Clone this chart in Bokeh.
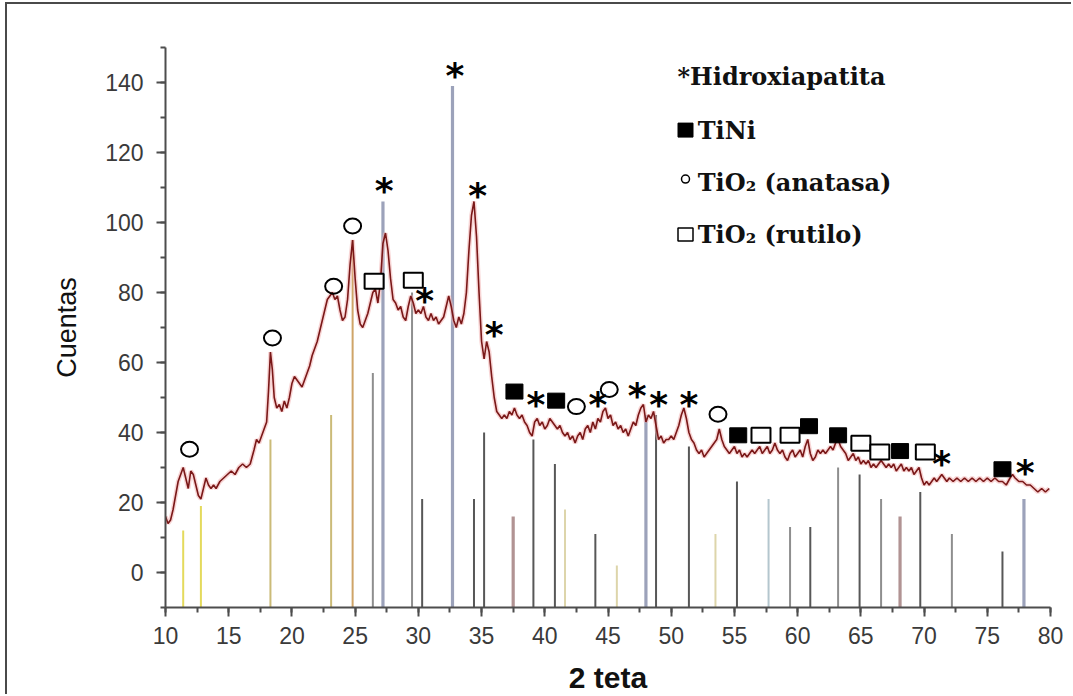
from bokeh.plotting import figure
from bokeh.models import Range1d, SingleIntervalTicker, ColumnDataSource
from bokeh.core.properties import value
from bokeh.embed import file_html
from bokeh.resources import INLINE

# --- measured diffractogram (2 theta, counts) ---
two_theta = [
    10.0, 10.2, 10.4, 10.6, 10.8, 11.0, 11.2, 11.4, 11.6, 11.8, 12.0, 12.2, 12.4, 12.6, 12.8,
    13.0, 13.2, 13.4, 13.6, 13.8, 14.0, 14.3, 14.6, 14.9, 15.2, 15.5, 15.8, 16.1, 16.4, 16.7,
    17.0, 17.2, 17.4, 17.6, 17.8, 18.0, 18.15, 18.3, 18.45, 18.6, 18.8, 19.0, 19.2, 19.4, 19.6,
    19.8, 20.0, 20.2, 20.4, 20.6, 20.8, 21.0, 21.2, 21.4, 21.6, 21.8, 22.0, 22.2, 22.4, 22.6,
    22.8, 23.0, 23.2, 23.4, 23.6, 23.8, 24.0, 24.2, 24.4, 24.6, 24.8, 25.0, 25.2, 25.4, 25.6,
    25.8, 26.0, 26.2, 26.4, 26.6, 26.8, 27.0, 27.2, 27.4, 27.6, 27.8, 28.0, 28.2, 28.4, 28.6,
    28.8, 29.0, 29.2, 29.4, 29.6, 29.8, 30.0, 30.2, 30.4, 30.6, 30.8, 31.0, 31.2, 31.4, 31.6,
    31.8, 32.0, 32.2, 32.4, 32.6, 32.8, 33.0, 33.2, 33.4, 33.6, 33.8, 34.0, 34.2, 34.4, 34.6,
    34.8, 35.0, 35.2, 35.4, 35.6, 35.8, 36.0, 36.2, 36.4, 36.6, 36.8, 37.0, 37.2, 37.4, 37.6,
    37.8, 38.0, 38.2, 38.4, 38.6, 38.8, 39.0, 39.2, 39.4, 39.6, 39.8, 40.0, 40.2, 40.4, 40.6,
    40.8, 41.0, 41.2, 41.4, 41.6, 41.8, 42.0, 42.2, 42.4, 42.6, 42.8, 43.0, 43.2, 43.4, 43.6,
    43.8, 44.0, 44.2, 44.4, 44.6, 44.8, 45.0, 45.2, 45.4, 45.6, 45.8, 46.0, 46.2, 46.4, 46.6,
    46.8, 47.0, 47.2, 47.4, 47.6, 47.8, 48.0, 48.2, 48.4, 48.6, 48.8, 49.0, 49.2, 49.4, 49.6,
    49.8, 50.0, 50.2, 50.4, 50.6, 50.8, 51.0, 51.2, 51.4, 51.6, 51.8, 52.0, 52.2, 52.4, 52.6,
    52.8, 53.0, 53.2, 53.4, 53.6, 53.8, 54.0, 54.2, 54.4, 54.6, 54.8, 55.0, 55.2, 55.4, 55.6,
    55.8, 56.0, 56.2, 56.4, 56.6, 56.8, 57.0, 57.2, 57.4, 57.6, 57.8, 58.0, 58.2, 58.4, 58.6,
    58.8, 59.0, 59.2, 59.4, 59.6, 59.8, 60.0, 60.2, 60.4, 60.6, 60.8, 61.0, 61.2, 61.4, 61.6,
    61.8, 62.0, 62.2, 62.4, 62.6, 62.8, 63.0, 63.2, 63.4, 63.6, 63.8, 64.0, 64.2, 64.4, 64.6,
    64.8, 65.0, 65.2, 65.4, 65.6, 65.8, 66.0, 66.2, 66.4, 66.6, 66.8, 67.0, 67.2, 67.4, 67.6,
    67.8, 68.0, 68.2, 68.4, 68.6, 68.8, 69.0, 69.2, 69.4, 69.6, 69.8, 70.0, 70.2, 70.4, 70.6,
    70.8, 71.0, 71.2, 71.4, 71.6, 71.8, 72.0, 72.3, 72.6, 72.9, 73.2, 73.5, 73.8, 74.1, 74.4,
    74.7, 75.0, 75.3, 75.6, 75.9, 76.2, 76.5, 76.8, 77.0, 77.2, 77.5, 77.8, 78.1, 78.4, 78.7,
    79.0, 79.3, 79.6, 79.9,
]
counts = [
    16, 14, 15, 18, 22, 26, 28, 30, 27, 24, 29, 28, 25, 22, 21,
    24, 27, 25, 24, 25, 24, 26, 27, 28, 29, 28, 30, 31, 30, 31,
    35, 38, 37, 39, 41, 43, 52, 63, 58, 50, 47, 48, 46, 49, 47,
    50, 54, 56, 55, 54, 53, 55, 57, 59, 62, 64, 66, 69, 72, 75,
    78, 79, 80, 78, 79, 75, 72, 73, 78, 88, 95, 84, 75, 71, 70,
    72, 74, 77, 80, 81, 77, 83, 94, 97, 92, 84, 78, 77, 75, 76,
    73, 72, 76, 79, 77, 74, 75, 74, 76, 73, 72, 74, 72, 73, 71,
    72, 73, 76, 79, 76, 72, 70, 73, 71, 74, 80, 92, 102, 106, 96,
    80, 66, 61, 66, 63, 56, 50, 46, 45, 44, 45, 44, 46, 45, 47,
    45, 44, 45, 43, 42, 40, 39, 43, 44, 42, 43, 41, 42, 44, 43,
    42, 41, 42, 40, 39, 40, 38, 39, 37, 39, 40, 38, 41, 42, 40,
    43, 41, 44, 43, 46, 47, 44, 45, 42, 43, 41, 42, 40, 41, 39,
    41, 43, 42, 45, 47, 48, 43, 45, 44, 46, 42, 38, 39, 37, 38,
    38, 39, 38, 40, 42, 45, 47, 44, 40, 38, 37, 35, 34, 35, 33,
    34, 35, 36, 37, 38, 41, 38, 36, 35, 34, 35, 36, 34, 35, 33,
    34, 33, 34, 35, 34, 35, 36, 34, 35, 36, 34, 35, 37, 35, 34,
    35, 33, 32, 34, 35, 33, 34, 35, 33, 36, 38, 34, 32, 33, 35,
    34, 35, 34, 35, 36, 35, 37, 38, 36, 35, 34, 32, 33, 34, 32,
    33, 31, 32, 31, 32, 30, 31, 30, 31, 32, 31, 30, 31, 30, 31,
    29, 30, 31, 29, 30, 29, 30, 28, 29, 30, 27, 25, 26, 25, 26,
    27, 26, 27, 28, 27, 26, 27, 26, 27, 26, 27, 26, 27, 26, 27,
    26, 27, 26, 27, 26, 26, 25, 27, 28, 27, 26, 26, 25, 25, 24,
    23, 24, 23, 24,
]

# --- reference pattern lines (position, relative height, card) ---
ref_pos = [11.4, 12.8, 18.3, 23.1, 24.8, 26.4, 27.2, 29.5, 30.3, 32.7, 34.4, 35.2,
           37.5, 39.1, 40.8, 41.6, 44.0, 45.7, 48.0, 48.8, 51.4, 53.5, 55.2, 57.7,
           59.4, 61.0, 63.2, 64.9, 66.6, 68.1, 69.7, 72.2, 76.2, 77.9]
ref_height = [12, 19, 38, 45, 95, 57, 106, 80, 21, 139, 21, 40,
              16, 38, 31, 18, 11, 2, 45, 45, 36, 11, 26, 21,
              13, 13, 30, 28, 21, 16, 23, 11, 6, 21]
ref_card = ["amarillo", "amarillo", "ocre", "ocre", "naranja", "gris", "azul", "gris", "oscuro", "azul", "oscuro", "oscuro",
            "malva", "oscuro", "oscuro", "crema", "oscuro", "crema", "azul", "oscuro", "oscuro", "crema", "oscuro", "celeste",
            "gris", "oscuro", "gris", "oscuro", "gris", "malva", "oscuro", "gris", "oscuro", "azul"]

# --- phase identification marks (2 theta, counts) ---
hidroxiapatita_x = [27.3, 32.9, 34.7, 30.5, 36.0, 39.3, 44.2, 47.3, 49.0, 51.4, 71.4, 78.0]
hidroxiapatita_y = [110, 143, 108.5, 78.7, 69, 49, 49, 51.4, 49, 49, 32, 29.3]
tini_x = [37.6, 40.9, 55.3, 60.9, 63.2, 68.1, 76.2]
tini_y = [51.7, 49.1, 39.2, 41.8, 39.2, 34.7, 29.5]
anatasa_x = [11.9, 18.46, 23.3, 24.8, 42.5, 45.1, 53.7]
anatasa_y = [35.2, 67, 81.8, 99, 47.4, 52.3, 45.2]
rutilo_x = [26.5, 29.6, 57.1, 59.4, 65.0, 66.5, 70.1]
rutilo_y = [83.2, 83.5, 39.2, 39.2, 36.9, 34.4, 34.4]

card_color = {
    "amarillo": "#e4da5c", "ocre": "#cbbb78", "naranja": "#cfa468", "gris": "#8e8e8e",
    "azul": "#9ca2ba", "oscuro": "#575757", "malva": "#b19393", "crema": "#ddd5aa",
    "celeste": "#b4c6ce",
}
card_width = {"azul": 3.2, "malva": 3.2}

p = figure(width=1066, height=692, x_range=Range1d(10, 80), y_range=Range1d(-10, 150),
           output_backend="svg", toolbar_location=None,
           min_border_left=158, min_border_right=23, min_border_top=43, min_border_bottom=86)
p.styles = {"margin-left": "5px", "margin-top": "2px",
            "border-left": "2px solid #4a4a4a", "border-top": "2px solid #4a4a4a"}
p.outline_line_color = None
p.xgrid.visible = False
p.ygrid.visible = False
p.background_fill_color = "white"
p.border_fill_color = "white"

# reference sticks rise from the bottom of the axis
base = p.y_range.start
sticks = ColumnDataSource(dict(
    x=ref_pos, top=ref_height, bottom=[base] * len(ref_pos),
    color=[card_color[c] for c in ref_card],
    width=[card_width.get(c, 2.0) for c in ref_card],
))
p.segment(x0="x", y0="bottom", x1="x", y1="top", source=sticks,
          line_color="color", line_width="width")

# diffractogram
p.line(two_theta, counts, line_color="#f2b2b2", line_width=4.5, line_alpha=0.55)
p.line(two_theta, counts, line_color="#7a1818", line_width=1.6)

# phase marks
star_font = value("DejaVu Sans")
p.text(hidroxiapatita_x, hidroxiapatita_y, text=["*"] * len(hidroxiapatita_x),
       text_font=star_font, text_font_size="36px", text_font_style="bold",
       text_align="center", text_baseline="alphabetic", y_offset=3, text_color="black")
p.rect(tini_x, tini_y, width=17, height=15, width_units="screen", height_units="screen",
       fill_color="black", line_color="black", line_width=1)
p.ellipse(anatasa_x, anatasa_y, width=17, height=15, width_units="screen", height_units="screen",
          fill_color=None, line_color="black", line_width=2)
p.rect(rutilo_x, rutilo_y, width=19, height=15, width_units="screen", height_units="screen",
       fill_color="white", line_color="black", line_width=2)

# key in the upper right
key_font = value("DejaVu Serif")
key_x_sym = 51.13
key_x_txt = 52.1
key_rows = [141.8, 126.4, 111.4, 96.6]
p.text([50.5], [key_rows[0]], text=["*Hidroxiapatita"], text_font=key_font,
       text_font_size="24px", text_font_style="bold", text_baseline="middle", text_color="#111111")
p.text([key_x_txt] * 3, key_rows[1:], text=["TiNi", "TiO\u2082 (anatasa)", "TiO\u2082 (rutilo)"],
       text_font=key_font, text_font_size="24px", text_font_style="bold",
       text_baseline="middle", text_color="#111111")
p.rect([key_x_sym], [key_rows[1]], width=15, height=14, width_units="screen", height_units="screen",
       fill_color="black", line_color="black")
p.ellipse([key_x_sym], [key_rows[2] + 1.0], width=8, height=8, width_units="screen", height_units="screen",
          fill_color=None, line_color="black", line_width=1.5)
p.rect([key_x_sym], [key_rows[3]], width=15, height=13, width_units="screen", height_units="screen",
       fill_color="white", line_color="black", line_width=1.5)

# axes
for ax in (p.xaxis, p.yaxis):
    ax.axis_line_color = "#4d4d4d"
    ax.axis_line_width = 2
    ax.major_tick_line_color = "#4d4d4d"
    ax.minor_tick_line_color = "#4d4d4d"
    ax.major_tick_line_width = 2
    ax.minor_tick_line_width = 2
    ax.major_tick_in = 0
    ax.major_tick_out = 9
    ax.minor_tick_in = 0
    ax.minor_tick_out = 5
    ax.major_label_text_font = "Liberation Sans"
    ax.major_label_text_font_size = "23px"
    ax.major_label_text_color = "#3a3a3a"
    ax.axis_label_text_font = "Liberation Sans"
    ax.axis_label_text_color = "#111111"

p.xaxis.ticker = SingleIntervalTicker(interval=5, num_minor_ticks=2)
p.yaxis.ticker = SingleIntervalTicker(interval=20, num_minor_ticks=2)
p.xaxis.major_label_standoff = 10
p.yaxis.major_label_standoff = 13
p.xaxis.axis_label = "2 teta"
p.yaxis.axis_label = "Cuentas"
p.xaxis.axis_label_text_font_size = "30px"
p.xaxis.axis_label_text_font_style = "bold"
p.yaxis.axis_label_text_font_size = "27px"
p.yaxis.axis_label_text_font_style = "normal"
p.xaxis.axis_label_standoff = 14
p.yaxis.axis_label_standoff = 20

open("out.html", "w").write(file_html(p, INLINE))
